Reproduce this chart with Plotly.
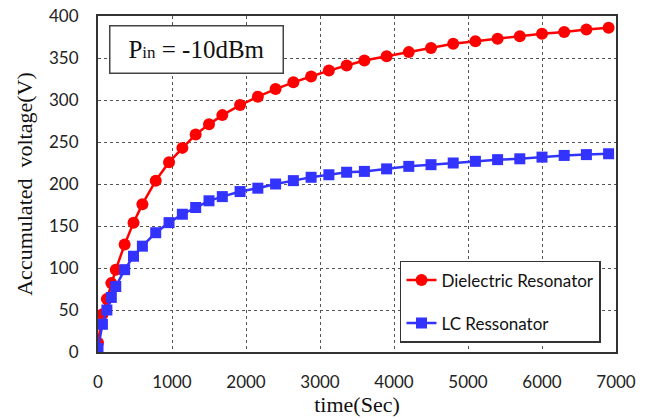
import plotly.graph_objects as go

# Charging time (s)
time_s = [0, 60, 120, 180, 240, 360, 480, 600, 780, 960, 1140, 1320, 1500, 1680,
          1920, 2160, 2400, 2640, 2880, 3120, 3360, 3600,
          3900, 4200, 4500, 4800, 5100, 5400, 5700, 6000, 6300, 6600, 6900]

# Accumulated voltage (V)
dielectric_v = [11, 45, 63, 82, 98, 128, 154, 176, 204, 226, 243, 259, 271, 282,
                294, 304, 313, 321, 328, 335, 341, 347,
                352, 357, 362, 367, 370, 373, 376, 379, 381, 384, 386]
lc_v = [4, 33, 50, 65, 78, 98, 114, 126, 142, 154, 164, 172, 180, 185,
        191, 195, 200, 204, 208, 211, 214, 215,
        218, 221, 223, 225, 227, 229, 230, 232, 234, 235, 236]

x_ticks = [0, 1000, 2000, 3000, 4000, 5000, 6000, 7000]
y_ticks = [0, 50, 100, 150, 200, 250, 300, 350, 400]

RED = "#FF0000"
BLUE = "#3333FF"
SANS = "Lato, 'Open Sans', sans-serif"
SERIF = "'Liberation Serif', 'Times New Roman', serif"

fig = go.Figure()
fig.add_trace(go.Scatter(
    x=time_s, y=dielectric_v, name="Dielectric Resonator", legendgroup="a",
    mode="lines+markers", line=dict(color=RED, width=2.5),
    marker=dict(symbol="circle", size=12, color=RED)))
fig.add_trace(go.Scatter(
    x=time_s, y=lc_v, name="LC Ressonator", legendgroup="b",
    mode="lines+markers", line=dict(color=BLUE, width=2.5),
    marker=dict(symbol="square", size=11, color=BLUE)))

axis_common = dict(
    showgrid=True, gridcolor="#555555", griddash="dot", gridwidth=1,
    showline=True, linecolor="#333333", linewidth=2, mirror=True,
    zeroline=False, ticks="", automargin=False,
    tickfont=dict(family=SANS, size=17, color="#222222"),
)

fig.update_xaxes(range=[0, 7000], tickvals=x_ticks, ticklabelstandoff=14,
                 title=dict(text="time(Sec)", font=dict(family=SERIF, size=22, color="#111111"),
                            standoff=4),
                 **axis_common)
fig.update_yaxes(range=[0, 400], tickvals=y_ticks, ticklabelstandoff=14,
                 title=dict(text="Accumulated  voltage(V)", font=dict(family=SERIF, size=22, color="#111111"),
                            standoff=10),
                 **axis_common)

fig.add_annotation(
    xref="paper", yref="paper", x=0.0213, y=0.973, xanchor="left", yanchor="top",
    text="P<span style='font-size:17px'>in</span> = -10dBm",
    showarrow=False, font=dict(family=SERIF, size=25, color="#111111"),
    bordercolor="#444444", borderwidth=1.5, borderpad=6, bgcolor="white",
    width=160, height=34)

fig.update_layout(
    width=653, height=418,
    margin=dict(l=98, r=37, t=16, b=66),
    plot_bgcolor="white", paper_bgcolor="white",
    legend=dict(x=0.583, y=0.271, xanchor="left", yanchor="top",
                bordercolor="#333333", borderwidth=1.5, bgcolor="white",
                font=dict(family=SANS, size=17, color="#111111"),
                tracegroupgap=18, itemwidth=30),
)

fig.write_html("out.html")
